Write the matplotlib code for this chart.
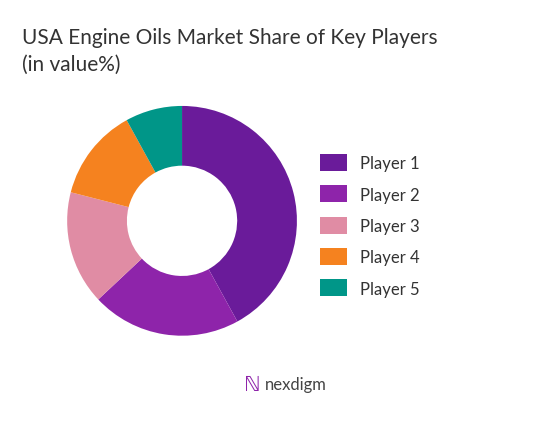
import matplotlib
matplotlib.use("Agg")
import matplotlib.pyplot as plt
from matplotlib.patches import Patch

labels = ["Player 1", "Player 2", "Player 3", "Player 4", "Player 5"]
values = [42, 21, 16, 13, 8]
colors = ["#6A1B9A", "#8E24AA", "#E08CA4", "#F5821F", "#009688"]

plt.rcParams['font.family'] = ['Lato', 'DejaVu Sans']
fig = plt.figure(figsize=(5.55, 4.27), dpi=100)
ax = fig.add_axes([0.121, 0.211, 0.414, 0.539])
ax.pie(values, colors=colors, startangle=90, counterclock=False,
       wedgeprops=dict(width=0.52, edgecolor="white", linewidth=0))
ax.set_xlim(-1, 1)
ax.set_ylim(-1, 1)
ax.set_aspect("equal")

fig.text(0.04, 0.935, "USA Engine Oils Market Share of Key Players\n(in value%)",
         fontsize=15, color="#333333", va="top", ha="left", linespacing=1.45)

handles = [Patch(facecolor=c) for c in colors]
fig.legend(handles, labels, loc="center left", bbox_to_anchor=(0.55, 0.47),
           frameon=False, fontsize=12, handlelength=1.6, handleheight=1.2,
           labelspacing=0.85, labelcolor="#333333")

fig.text(0.455, 0.098, "\u2115", fontsize=15, color="#8E24AA", ha="center", va="center")
fig.text(0.478, 0.098, "nexdigm", fontsize=12, color="#444444", ha="left", va="center")

fig.savefig("out.png", dpi=100)
